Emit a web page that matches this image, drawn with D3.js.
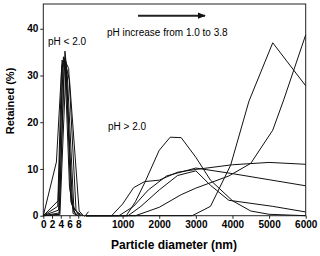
<!DOCTYPE html>
<html><head><meta charset="utf-8">
<script src="https://cdn.jsdelivr.net/npm/d3@7"></script>
<style>body{margin:0;background:#fff}svg{display:block}</style>
</head><body>
<svg id="c" width="320" height="256"></svg>
<script>
// Left segment (pH < 2.0), x in small units
const leftTicks = [0, 2, 4, 6, 8];
const leftSeries = [
  [[0,0],[3,11.5],[4.3,33.3],[5.0,31],[6,6],[7,0.8],[8,0]],
  [[0,0],[3.4,3.2],[4.6,34],[5.3,30],[6.3,3],[7.5,0]],
  [[0,0],[3.5,1.2],[4.4,32.5],[5.2,33],[6.5,2.5],[8,0.3],[8.5,0]],
  [[0,0],[3.6,0.3],[4.96,35.2],[5.5,30],[7,1.5],[8.5,0]],
  [[0,0],[3.7,0.6],[4.8,33.5],[5.8,31.5],[7.5,1],[9,0]],
  [[0,0],[3.3,2],[4.2,32],[5.0,33.8],[6.8,0.5],[8,0]],
  [[0,0],[3.8,0.2],[5.2,32],[6.0,29],[8.2,1],[9.2,0]]
];
// Right segment (pH > 2.0), particle diameter in nm
const rightTicks = [1000, 2000, 3000, 4000, 5000, 6000];
const seriesA = [[0,0],[1100,0],[1350,3],[1600,7],[2000,14],[2300,16.8],[2600,16.7],[3000,12.5],[3400,7.6],[4000,3.2],[4500,1],[5000,0.3],[6000,0]];
const seriesB = [[0,0],[2900,0],[3400,2],[3950,10.8],[4450,24.5],[5100,37],[6000,27.8]];
const seriesC = [[0,0],[1350,0],[2000,1.8],[2600,4.5],[3000,5.9],[3900,8.5],[4500,11.2],[5100,18.3],[5400,24.8],[6000,38.7]];
const seriesD = [[0,0],[700,0],[1000,2.5],[1300,6],[1600,7.3],[2000,7.6],[2500,9.3],[3000,9.9],[4000,10.9],[5000,11.4],[6000,11]];
const seriesE = [[0,0],[900,0],[1300,2],[1700,5.5],[2200,8.5],[3000,10.2],[4000,9],[5000,7.7],[6000,6.4]];
const seriesF = [[0,0],[1150,0],[1500,2],[2000,5.5],[2500,8.6],[3000,9.6],[3400,6.5],[3900,3.3],[5100,2],[6000,0.8]];
const rightSeries = [seriesA, seriesB, seriesC, seriesD, seriesE, seriesF];
const yTicks = [0, 10, 20, 30, 40];

const svg = d3.select("#c");
const L = 43.3, R = 305.7, T = 4, B = 215.7;
const xL = d3.scaleLinear().domain([0, 10]).range([L, 87]);
const xR = d3.scaleLinear().domain([0, 6000]).range([86, R]);
const y = d3.scaleLinear().domain([0, 45.3]).range([B, T]);
const font = "Liberation Sans, Arial, sans-serif";

// frame
svg.append("rect").attr("x", L).attr("y", T).attr("width", R - L).attr("height", B - T)
  .attr("fill", "none").attr("stroke", "#222").attr("stroke-width", 1);

// data lines
const lineL = d3.line().x(d => xL(d[0])).y(d => y(d[1]));
const lineR = d3.line().x(d => xR(d[0])).y(d => y(d[1]));
const g = svg.append("g").attr("fill", "none").attr("stroke", "#111").attr("stroke-width", 1);
leftSeries.forEach(s => g.append("path").attr("d", lineL(s)));
rightSeries.forEach(s => g.append("path").attr("d", lineR(s)));

// y axis
const ya = svg.append("g").attr("transform", `translate(${L},0)`)
  .call(d3.axisLeft(y).tickValues(yTicks).tickSize(3).tickPadding(2));
ya.select(".domain").remove();
ya.selectAll("text").attr("font-family", font).attr("font-weight", "bold").attr("font-size", 10).attr("fill", "#000");
ya.selectAll("line").attr("stroke", "#222");

// x axes
const xa1 = svg.append("g").attr("transform", `translate(0,${B})`)
  .call(d3.axisBottom(xL).tickValues(leftTicks).tickFormat(d3.format("d")).tickSize(3).tickPadding(2));
const xa2 = svg.append("g").attr("transform", `translate(0,${B})`)
  .call(d3.axisBottom(xR).tickValues(rightTicks).tickFormat(d3.format("d")).tickSize(3).tickPadding(2));
[xa1, xa2].forEach(a => {
  a.select(".domain").remove();
  a.selectAll("text").attr("font-family", font).attr("font-weight", "bold").attr("font-size", 10).attr("fill", "#000");
  a.selectAll("line").attr("stroke", "#222");
});
// axis break mark
svg.append("line").attr("x1", 84.5).attr("y1", B + 1).attr("x2", 88.5).attr("y2", B - 4)
  .attr("stroke", "#111").attr("stroke-width", 1);

// axis titles
svg.append("text").attr("x", 174).attr("y", 249).attr("text-anchor", "middle")
  .attr("font-family", font).attr("font-weight", "bold").attr("font-size", 12).text("Particle diameter (nm)");
svg.append("text").attr("transform", "translate(14,101) rotate(-90)").attr("text-anchor", "middle")
  .attr("font-family", font).attr("font-weight", "bold").attr("font-size", 11).text("Retained (%)");

// annotations
svg.append("text").attr("x", 107).attr("y", 36).attr("font-family", font).attr("font-size", 10).text("pH increase from 1.0 to 3.8");
svg.append("text").attr("x", 48).attr("y", 45).attr("font-family", font).attr("font-size", 10).text("pH < 2.0");
svg.append("text").attr("x", 108).attr("y", 130).attr("font-family", font).attr("font-size", 10).text("pH > 2.0");

// arrow
svg.append("defs").append("marker").attr("id", "ah").attr("viewBox", "0 0 10 10")
  .attr("refX", 9).attr("refY", 5).attr("markerWidth", 4).attr("markerHeight", 4).attr("orient", "auto")
  .attr("markerUnits", "strokeWidth")
  .append("path").attr("d", "M0,1 L10,5 L0,9 Z").attr("fill", "#111");
svg.append("line").attr("x1", 138).attr("y1", 15.7).attr("x2", 205).attr("y2", 15.7)
  .attr("stroke", "#222").attr("stroke-width", 2).attr("marker-end", "url(#ah)");
</script>
</body></html>
